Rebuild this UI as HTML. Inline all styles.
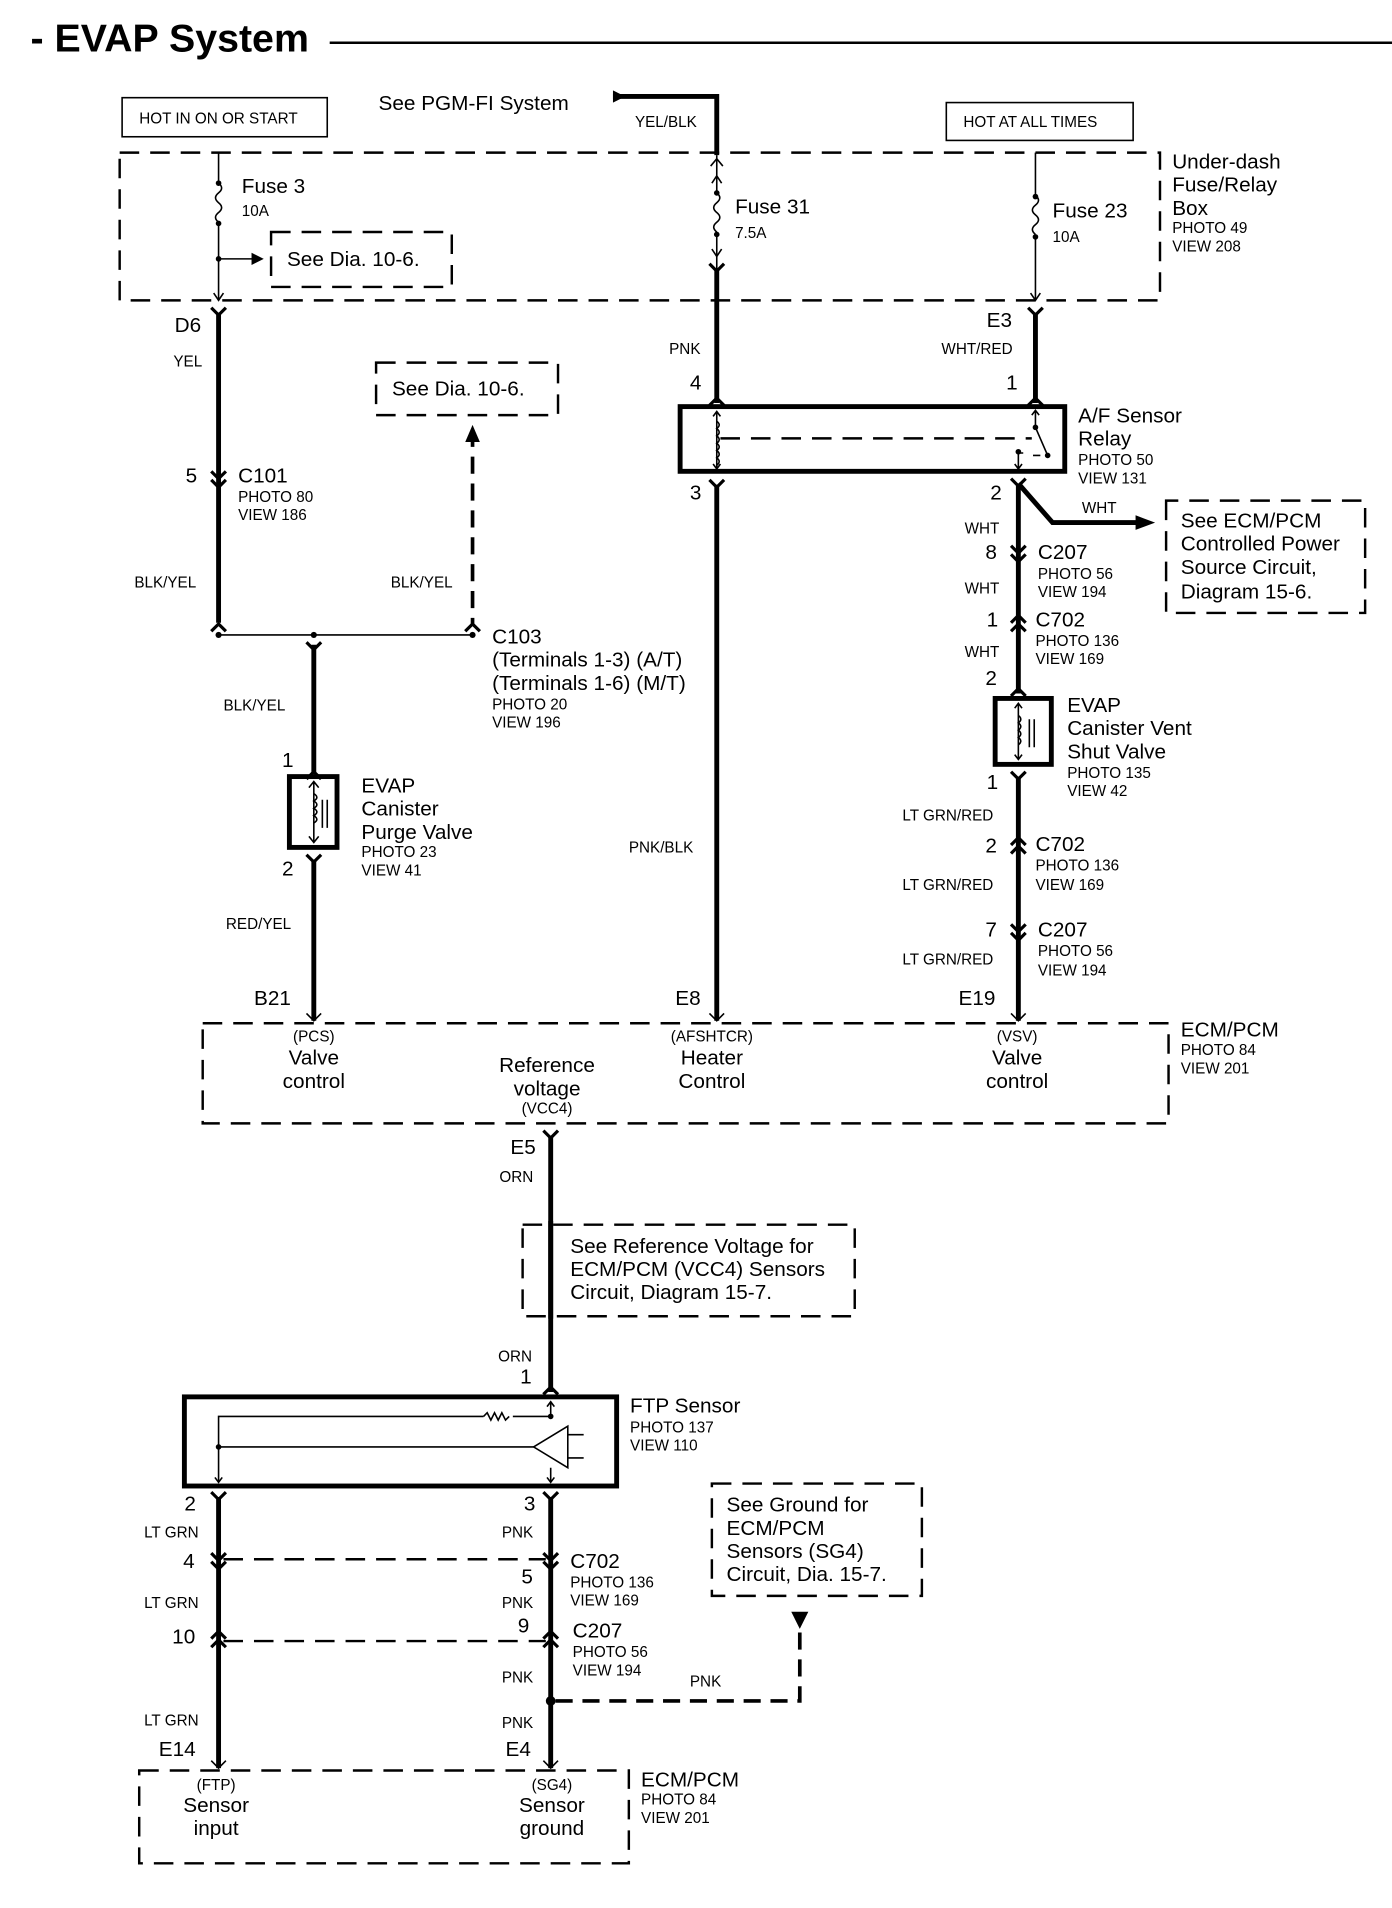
<!DOCTYPE html>
<html><head><meta charset="utf-8"><style>
html,body{margin:0;padding:0;background:#fff}
svg{display:block}
text{font-family:"Liberation Sans",Arial,sans-serif;fill:#000}
.L{font-size:17px}.S{font-size:12.5px}.M{font-size:14px}
.t{stroke:#000;stroke-width:1.3;fill:none}
.k{stroke:#000;stroke-width:4;fill:none}
.d{stroke:#000;stroke-width:2;fill:none;stroke-dasharray:16 9}
.dk{stroke:#000;stroke-width:3;fill:none;stroke-dasharray:14 8}
.c{stroke:#000;stroke-width:2.6;fill:none}
</style></head><body>
<svg width="1392" height="1908" viewBox="0 0 1140 1562.6" xmlns="http://www.w3.org/2000/svg">
<text x="25" y="42" style="font-size:32px;font-weight:bold" textLength="228" lengthAdjust="spacingAndGlyphs">- EVAP System</text>
<line x1="270" y1="35" x2="1140" y2="35" stroke="#000" stroke-width="2"/>

<!-- top boxes -->
<rect x="100" y="80" width="168" height="32" class="t" stroke-width="2"/>
<text x="114" y="101" class="S">HOT IN ON OR START</text>
<rect x="775" y="84" width="153" height="31" class="t" stroke-width="2"/>
<text x="789" y="104" class="S">HOT AT ALL TIMES</text>
<text x="310" y="90" class="L">See PGM-FI System</text>
<path d="M502 74 L512 79 L502 84 Z"/>
<path d="M502 79 L587 79 L587 127" class="k"/>
<text x="520" y="104" class="S">YEL/BLK</text>

<!-- fuse box -->
<rect x="98" y="125" width="852" height="121" class="d" stroke-width="3"/>
<text x="960" y="138" class="L">Under-dash</text>
<text x="960" y="157" class="L">Fuse/Relay</text>
<text x="960" y="176" class="L">Box</text>
<text x="960" y="191" class="S">PHOTO 49</text>
<text x="960" y="206" class="S">VIEW 208</text>

<!-- fuse 3 -->
<line x1="179" y1="125" x2="179" y2="246" class="t"/>
<rect x="176" y="148" width="6" height="36" fill="#fff"/>
<path d="M179 150 q5 4 0 8 q-5 4 0 8 q5 4 0 8 q-5 4 0 8" class="t"/>
<circle cx="179" cy="150" r="2.3"/><circle cx="179" cy="183" r="2.3"/><circle cx="179" cy="212" r="2.3"/>
<line x1="179" y1="212" x2="207" y2="212" class="t"/><path d="M206 207 L216 212 L206 217Z"/>
<text x="198" y="158" class="L">Fuse 3</text><text x="198" y="177" class="S">10A</text>
<rect x="222" y="190" width="148" height="45" class="d"/>
<text x="235" y="218" class="L">See Dia. 10-6.</text>
<path d="M175 240 L179 246 L183 240" class="t"/>

<!-- fuse 31 -->
<line x1="587" y1="127" x2="587" y2="246" class="t" />
<path d="M582 136 L587 130 L592 136 M583 150 L587 144 L591 150 M583 204 L587 210 L591 204" class="t"/>
<rect x="584" y="158" width="6" height="36" fill="#fff"/>
<path d="M587 158 q5 4 0 8 q-5 4 0 8 q5 4 0 8 q-5 4 0 8" class="t"/>
<circle cx="587" cy="158" r="2.3"/><circle cx="587" cy="192" r="2.3"/>
<text x="602" y="175" class="L">Fuse 31</text><text x="602" y="195" class="S">7.5A</text>
<path d="M581 216 L587 222 L593 216" class="c"/>
<line x1="587" y1="220" x2="587" y2="246" class="k"/>

<!-- fuse 23 -->
<line x1="848" y1="125" x2="848" y2="246" class="t"/>
<rect x="845" y="160" width="6" height="36" fill="#fff"/>
<path d="M848 160 q5 4 0 8 q-5 4 0 8 q5 4 0 8 q-5 4 0 8" class="t"/>
<circle cx="848" cy="161" r="2.3"/><circle cx="848" cy="194" r="2.3"/>
<path d="M844 240 L848 246 L852 240" class="t"/>
<text x="862" y="178" class="L">Fuse 23</text><text x="862" y="198" class="S">10A</text>

<!-- left branch -->
<path d="M173 252 L179 258 L185 252" class="c"/>
<line x1="179" y1="256" x2="179" y2="510" class="k"/>
<text x="143" y="272" class="L">D6</text>
<text x="142" y="300" class="S">YEL</text>
<text x="152" y="395" class="L">5</text>
<path d="M173 386 L179 392 L185 386 M173 393 L179 399 L185 393" class="c"/>
<text x="195" y="395" class="L">C101</text><text x="195" y="411" class="S">PHOTO 80</text><text x="195" y="426" class="S">VIEW 186</text>
<text x="110" y="481" class="S">BLK/YEL</text>
<text x="320" y="481" class="S">BLK/YEL</text>
<path d="M173 517 L179 511 L185 517" class="c"/>
<rect x="308" y="297" width="149" height="43" class="d"/>
<text x="321" y="324" class="L">See Dia. 10-6.</text>
<path d="M387 352 L387 512" class="dk" stroke-width="4"/>
<path d="M381 362 L387 348 L393 362Z"/>
<path d="M381 517 L387 511 L393 517" class="c"/>
<line x1="179" y1="520" x2="387" y2="520" class="t"/>
<circle cx="179" cy="520" r="2.5"/><circle cx="257" cy="520" r="2.5"/><circle cx="387" cy="520" r="2.5"/>
<path d="M251 526 L257 532 L263 526" class="c"/>
<line x1="257" y1="528" x2="257" y2="634" class="k"/>
<text x="403" y="527" class="L">C103</text>
<text x="403" y="546" class="L">(Terminals 1-3) (A/T)</text>
<text x="403" y="565" class="L">(Terminals 1-6) (M/T)</text>
<text x="403" y="581" class="S">PHOTO 20</text><text x="403" y="596" class="S">VIEW 196</text>
<text x="183" y="582" class="S">BLK/YEL</text>
<text x="231" y="628" class="L">1</text>
<path d="M251 638 L257 632 L263 638" class="c"/>
<rect x="237" y="636" width="39" height="58" class="k" stroke-width="3.5"/>
<path d="M257 640 L257 690 M253 645 L257 640 L261 645 M253 685 L257 690 L261 685" class="t"/>
<path d="M257 650 q5 3 0 6 q5 3 0 6 q5 3 0 6 q5 3 0 6" class="t"/>
<path d="M264 655 L264 678 M268 655 L268 678" class="t"/>
<text x="296" y="649" class="L">EVAP</text><text x="296" y="668" class="L">Canister</text><text x="296" y="687" class="L">Purge Valve</text>
<text x="296" y="702" class="S">PHOTO 23</text><text x="296" y="717" class="S">VIEW 41</text>
<text x="231" y="717" class="L">2</text>
<path d="M251 700 L257 706 L263 700" class="c"/>
<line x1="257" y1="704" x2="257" y2="836" class="k"/>
<text x="185" y="761" class="S">RED/YEL</text>
<text x="208" y="823" class="L">B21</text>
<path d="M251 830 L257 836 L263 830" class="t"/>

<!-- middle -->
<text x="548" y="290" class="S">PNK</text>
<text x="565" y="319" class="L">4</text>
<line x1="587" y1="246" x2="587" y2="330" class="k"/>
<path d="M581 332 L587 326 L593 332" class="c"/>
<rect x="557" y="333" width="315" height="53" class="k" stroke-width="3.5"/>
<path d="M587 337 L587 384 M584 341 L587 337 L590 341 M584 380 L587 384 L590 380" class="t"/>
<path d="M587 345 q4 3 0 6 q4 3 0 6 q4 3 0 6 q4 3 0 6 q4 3 0 6 q4 3 0 6" class="t"/>
<line x1="590" y1="359" x2="845" y2="359" class="d" stroke-dasharray="14 8" stroke-width="1.6"/>
<path d="M848 336 L848 350 L858 373 M845 340 L848 336 L851 340" class="t"/>
<circle cx="848" cy="350" r="2.3"/><circle cx="858" cy="373" r="2.3"/>
<path d="M834 384 L834 371 L838 371 M846 373 L852 373 M831 380 L834 384 L837 380" class="t"/>
<circle cx="834" cy="370" r="2.3"/>
<text x="883" y="346" class="L">A/F Sensor</text><text x="883" y="365" class="L">Relay</text>
<text x="883" y="381" class="S">PHOTO 50</text><text x="883" y="396" class="S">VIEW 131</text>
<text x="565" y="409" class="L">3</text>
<path d="M581 393 L587 399 L593 393" class="c"/>
<line x1="587" y1="397" x2="587" y2="836" class="k"/>
<path d="M581 830 L587 836 L593 830" class="t"/>
<text x="515" y="698" class="S">PNK/BLK</text>
<text x="553" y="823" class="L">E8</text>

<!-- right -->
<path d="M842 252 L848 258 L854 252" class="c"/>
<line x1="848" y1="256" x2="848" y2="330" class="k"/>
<path d="M842 332 L848 326 L854 332" class="c"/>
<text x="808" y="268" class="L">E3</text>
<text x="771" y="290" class="S">WHT/RED</text>
<text x="824" y="319" class="L">1</text>
<text x="811" y="409" class="L">2</text>
<path d="M828 392 L834 398 L840 392" class="c"/>
<path d="M834 396 L862 428 L932 428" class="k"/>
<path d="M930 422 L946 428 L930 434Z"/>
<text x="886" y="420" class="S">WHT</text>
<path d="M955 410 L955 502 L1118 502 L1118 410 Z" class="d"/>
<text x="967" y="432" class="L">See ECM/PCM</text><text x="967" y="451" class="L">Controlled Power</text>
<text x="967" y="470" class="L">Source Circuit,</text><text x="967" y="490" class="L">Diagram 15-6.</text>
<line x1="834" y1="396" x2="834" y2="568" class="k"/>
<text x="790" y="437" class="S">WHT</text>
<text x="807" y="458" class="L">8</text>
<path d="M828 447 L834 453 L840 447 M828 454 L834 460 L840 454" class="c"/>
<text x="850" y="458" class="L">C207</text><text x="850" y="474" class="S">PHOTO 56</text><text x="850" y="489" class="S">VIEW 194</text>
<text x="790" y="486" class="S">WHT</text>
<text x="808" y="513" class="L">1</text>
<path d="M828 510 L834 504 L840 510 M828 517 L834 511 L840 517" class="c"/>
<text x="848" y="513" class="L">C702</text><text x="848" y="529" class="S">PHOTO 136</text><text x="848" y="544" class="S">VIEW 169</text>
<text x="790" y="538" class="S">WHT</text>
<text x="807" y="561" class="L">2</text>
<path d="M828 570 L834 564 L840 570" class="c"/>
<rect x="815" y="572" width="46" height="54" class="k" stroke-width="3.5"/>
<path d="M834 576 L834 622 M831 580 L834 576 L837 580 M831 618 L834 622 L837 618" class="t"/>
<path d="M834 586 q4 3 0 6 q4 3 0 6 q4 3 0 6 q4 3 0 6" class="t"/>
<path d="M843 589 L843 612 M847 589 L847 612" class="t"/>
<text x="874" y="583" class="L">EVAP</text><text x="874" y="602" class="L">Canister Vent</text><text x="874" y="621" class="L">Shut Valve</text>
<text x="874" y="637" class="S">PHOTO 135</text><text x="874" y="652" class="S">VIEW 42</text>
<text x="808" y="646" class="L">1</text>
<path d="M828 632 L834 638 L840 632" class="c"/>
<line x1="834" y1="636" x2="834" y2="836" class="k"/>
<text x="739" y="672" class="S">LT GRN/RED</text>
<text x="807" y="698" class="L">2</text>
<path d="M828 692 L834 686 L840 692 M828 699 L834 693 L840 699" class="c"/>
<text x="848" y="697" class="L">C702</text><text x="848" y="713" class="S">PHOTO 136</text><text x="848" y="729" class="S">VIEW 169</text>
<text x="739" y="729" class="S">LT GRN/RED</text>
<text x="807" y="767" class="L">7</text>
<path d="M828 757 L834 763 L840 757 M828 764 L834 770 L840 764" class="c"/>
<text x="850" y="767" class="L">C207</text><text x="850" y="783" class="S">PHOTO 56</text><text x="850" y="799" class="S">VIEW 194</text>
<text x="739" y="790" class="S">LT GRN/RED</text>
<text x="785" y="823" class="L">E19</text>
<path d="M828 830 L834 836 L840 830" class="t"/>

<!-- ECM box -->
<rect x="166" y="838" width="791" height="82" class="d" stroke-width="2.5"/>
<g text-anchor="middle">
<text x="257" y="853" class="S">(PCS)</text><text x="257" y="872" class="L">Valve</text><text x="257" y="891" class="L">control</text>
<text x="448" y="878" class="L">Reference</text><text x="448" y="897" class="L">voltage</text><text x="448" y="912" class="S">(VCC4)</text>
<text x="583" y="853" class="S">(AFSHTCR)</text><text x="583" y="872" class="L">Heater</text><text x="583" y="891" class="L">Control</text>
<text x="833" y="853" class="S">(VSV)</text><text x="833" y="872" class="L">Valve</text><text x="833" y="891" class="L">control</text>
</g>
<text x="967" y="849" class="L">ECM/PCM</text><text x="967" y="864" class="S">PHOTO 84</text><text x="967" y="879" class="S">VIEW 201</text>

<!-- VCC4 -->
<path d="M445 926 L451 932 L457 926" class="c"/>
<line x1="451" y1="930" x2="451" y2="1140" class="k"/>
<text x="418" y="945" class="L">E5</text>
<text x="409" y="968" class="S">ORN</text>
<rect x="428" y="1003" width="272" height="75" class="d" fill="#fff"/>
<line x1="451" y1="1000" x2="451" y2="1080" class="k"/>
<text x="467" y="1026" class="L">See Reference Voltage for</text>
<text x="467" y="1045" class="L">ECM/PCM (VCC4) Sensors</text>
<text x="467" y="1064" class="L">Circuit, Diagram 15-7.</text>
<text x="408" y="1115" class="S">ORN</text>
<text x="426" y="1133" class="L">1</text>
<path d="M445 1142 L451 1136 L457 1142" class="c"/>

<!-- FTP sensor -->
<rect x="151" y="1144" width="354" height="73" class="k" stroke-width="3.5"/>
<path d="M179 1214 L179 1160 L396 1160 M420 1160 L451 1160 L451 1148 M448 1152 L451 1148 L454 1152" class="t"/>
<path d="M396 1160 l3 -3 l3 6 l3 -6 l3 6 l3 -6 l3 6 l3 -3" class="t"/>
<circle cx="451" cy="1160" r="2.3"/>
<circle cx="179" cy="1185" r="2.3"/>
<line x1="179" y1="1185" x2="437" y2="1185" class="t"/>
<path d="M437 1185 L465 1168 L465 1202 Z" class="t" stroke-width="2.5"/>
<path d="M465 1175 L478 1175 M465 1194 L478 1194" class="t" stroke-width="1.8"/>
<path d="M451 1202 L451 1214 M448 1210 L451 1214 L454 1210 M176 1210 L179 1214 L182 1210" class="t"/>
<text x="516" y="1157" class="L">FTP Sensor</text><text x="516" y="1173" class="S">PHOTO 137</text><text x="516" y="1188" class="S">VIEW 110</text>

<text x="151" y="1237" class="L">2</text><text x="429" y="1237" class="L">3</text>
<path d="M173 1222 L179 1228 L185 1222 M445 1222 L451 1228 L457 1222" class="c"/>
<line x1="179" y1="1226" x2="179" y2="1448" class="k"/>
<line x1="451" y1="1226" x2="451" y2="1448" class="k"/>
<text x="118" y="1259" class="S">LT GRN</text><text x="411" y="1259" class="S">PNK</text>
<text x="150" y="1284" class="L">4</text><text x="427" y="1297" class="L">5</text>
<path d="M173 1272 L179 1278 L185 1272 M173 1279 L179 1285 L185 1279 M445 1272 L451 1278 L457 1272 M445 1279 L451 1285 L457 1279" class="c"/>
<line x1="183" y1="1277" x2="447" y2="1277" class="d" stroke-width="1.3" stroke-dasharray="14 8"/>
<text x="467" y="1284" class="L">C702</text><text x="467" y="1300" class="S">PHOTO 136</text><text x="467" y="1315" class="S">VIEW 169</text>
<text x="118" y="1317" class="S">LT GRN</text><text x="411" y="1317" class="S">PNK</text>
<text x="141" y="1346" class="L">10</text><text x="424" y="1337" class="L">9</text>
<path d="M173 1342 L179 1336 L185 1342 M173 1349 L179 1343 L185 1349 M445 1342 L451 1336 L457 1342 M445 1349 L451 1343 L457 1349" class="c"/>
<line x1="183" y1="1344" x2="447" y2="1344" class="d" stroke-width="1.3" stroke-dasharray="14 8"/>
<text x="469" y="1341" class="L">C207</text><text x="469" y="1357" class="S">PHOTO 56</text><text x="469" y="1372" class="S">VIEW 194</text>
<text x="411" y="1378" class="S">PNK</text>
<circle cx="451" cy="1393" r="4"/>
<path d="M455 1393 L655 1393 L655 1330" class="dk" stroke-width="4"/>
<path d="M648 1320 L662 1320 L655 1334 Z"/>
<text x="565" y="1381" class="S">PNK</text>
<rect x="583" y="1215" width="172" height="92" class="d"/>
<text x="595" y="1238" class="L">See Ground for</text><text x="595" y="1257" class="L">ECM/PCM</text>
<text x="595" y="1276" class="L">Sensors (SG4)</text><text x="595" y="1295" class="L">Circuit, Dia. 15-7.</text>
<text x="118" y="1413" class="S">LT GRN</text><text x="411" y="1415" class="S">PNK</text>
<text x="130" y="1438" class="L">E14</text><text x="414" y="1438" class="L">E4</text>
<path d="M173 1442 L179 1448 L185 1442 M445 1442 L451 1448 L457 1442" class="t"/>
<rect x="114" y="1450" width="401" height="76" class="d" stroke-width="2.5"/>
<g text-anchor="middle">
<text x="177" y="1466" class="S">(FTP)</text><text x="177" y="1484" class="L">Sensor</text><text x="177" y="1503" class="L">input</text>
<text x="452" y="1466" class="S">(SG4)</text><text x="452" y="1484" class="L">Sensor</text><text x="452" y="1503" class="L">ground</text>
</g>
<text x="525" y="1463" class="L">ECM/PCM</text><text x="525" y="1478" class="S">PHOTO 84</text><text x="525" y="1493" class="S">VIEW 201</text>
</svg>
</body></html>
